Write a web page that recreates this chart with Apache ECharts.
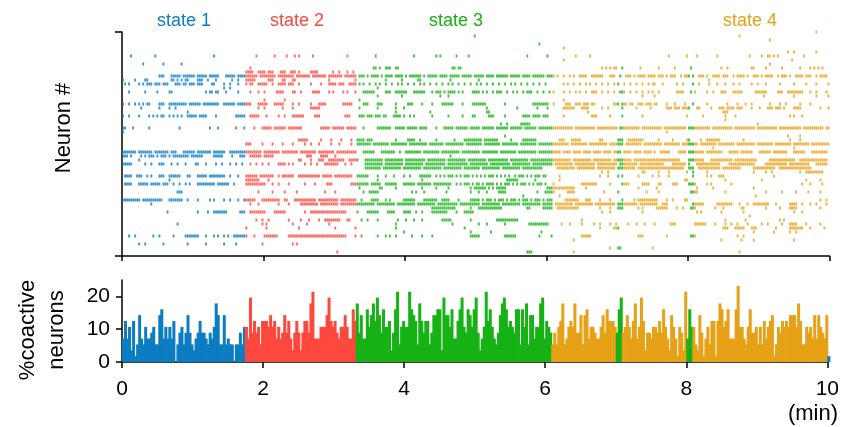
<!DOCTYPE html>
<html>
<head>
<meta charset="utf-8">
<script src="https://cdn.jsdelivr.net/npm/echarts@6/dist/echarts.min.js"></script>
<style>
  html, body { margin: 0; padding: 0; background: #fff; }
  #chart { width: 842px; height: 427px; }
</style>
</head>
<body>
<div id="chart"></div>
<script>
const stateNames = ["state 1", "state 2", "state 3", "state 4"];
const stateColors = ["#0c7dc2", "#fe483e", "#16b216", "#e6a117"];
const stateLabelX = [184, 297, 456, 750];

// 350 time bins over 10 min; runs of bins -> state
const binCount = 350;
const stateRuns = [
  [0, 60, 0], [61, 115, 1], [116, 212, 2], [213, 244, 3], [245, 247, 2],
  [248, 279, 3], [280, 282, 2], [283, 349, 3], [350, 350, 0],
];

const neuronCount = 56;
const xTicks = [0, 2, 4, 6, 8, 10];
const yTicksBottom = [0, 10, 20];

// number of coactive neurons per bin
const coactiveCounts = [
  4,7,4,6,2,7,1,3,8,4, 3,6,4,4,5,6,3,3,8,9, 4,6,4,6,4,7,0,3,5,6,
  3,5,8,5,3,2,4,5,7,5, 5,4,3,5,4,6,10,8,3,3, 8,3,4,3,3,0,3,3,5,3, 6,
  6,4,11,5,7,5,6,3,7,7, 7,6,8,6,7,4,6,4,5,8, 5,7,4,2,5,7,5,2,5,7,
  7,5,10,12,4,4,4,6,6,6, 8,11,7,6,7,5,4,6,6,8, 6,4,4,9,7,
  10,5,8,4,4,9,6,8,10,7, 11,8,5,9,6,6,7,2,5,9, 12,3,6,7,6,6,12,9,8,7,
  3,10,7,5,7,7,3,5,8,8, 9,9,2,11,8,8,6,9,4,4, 7,9,11,6,5,9,8,6,9,11,
  5,2,4,6,12,7,9,6,4,3, 5,8,10,11,9,6,7,6,5,9, 9,3,9,6,10,3,8,8,4,6,
  6,10,11,4,7,6,5,
  3,5,3,6,7,10,3,4,6,7, 6,10,5,5,8,3,8,9,4,6, 6,5,4,4,6,8,5,9,7,7,
  7,6,5,9,11,5,6,8,6,4, 7,10,4,6,11,7,2,5,5,4, 6,6,5,7,5,9,6,4,2,8,
  6,4,1,6,5,2,12,4,9,6, 6,3,2,8,5,1,4,6,3,7, 7,1,7,10,9,6,7,9,4,4,
  4,9,13,6,6,4,3,6,9,5, 5,6,3,6,3,7,4,6,7,8, 1,3,6,5,7,6,7,6,8,8,
  8,6,10,7,3,3,6,5,6,4, 8,4,8,6,5,4,8,
  1,
];

// spike bins per neuron (top to bottom); "a-b" = spikes in every bin a..b
const spikeRows = [
  "343",
  "174 305",
  "320",
  "206",
  "218",
  "329 332 343",
  "4 16 45 66 75 81 85 87 94 111 125 144 155 157 165 171 200 210 224 231 270 279 284 294 310 316 319-320 322 324 337",
  "218 331",
  "10 20 29 320",
  "63 124-125 127 130-132 135-136 163-164 166-167 237 239 241 243-244 247 256 265 273 281 296 299 311-312 318 326 335 340 342 344 346",
  "61-64 67-70 72-74 78-80 83-85 87 93-96 104 107 111 114",
  "18-20 24-28 30-35 37-41 43-47 51-55 57-60 61-66 68-75 77-84 86-92 94-100 102-108 110-115 117-119 121 123-126 128 130-133 135-138 140 142-147 149 151-155 157-160 162-166 168-172 174-178 180-183 185-190 192-196 198-201 203-208 210-213 215 218 221 223 226-229 232-237 241-243 246 249-251 253 255-258 260-263 265-267 269 271-273 276 278-280 282 285-287 289 292-295 297-299 302 304-307 309 312-314 316 318-321 324 326-328 330 333-336 338-340 343 345-348",
  "0 6 11-12 24-25 27 29 31-32 37-39 42 46 54 57 61-65 72-74 79-80 84-85 102 115 130 138 146-147 162 176 290",
  "1 3 8 10 12-14 16-18 20-22 26-28 30-31 33-35 37-39 44-45 50 53 57 61 63-64 67-71 74 77-80 82-84 87 93 98 102-105 107-109 112-115 117 119 122 125 127 130 133 136 138 141 144 147 149 152 155 158 161 163 166 169 172 175 177 180 183 186 189 192 194 197 200 203 206 209 218 220 223 226 229 231 234 237 240 243 245 248 251 254 257 260 262-263 267 274 277 282 285 290 294 298 302 305 311 314 318 325 332 338 343 349",
  "50 53 126",
  "3 11 17 23-24 41 43-44 46-47 51 57 63 67 70 76-79 84-85 88 94-97 102 104 109 111 115 119-124 130-132 135-140 144-149 153 155-157 159 161-164 166 168 173-176 178 180 183 185-187 190 193 195 198 200-202 205 208 211 213 218 221 224 226 229 232-234 237 240 243 246-248 251 254 257 260 262 265 274-277 281 283 289 292 296-298 302-306 313-318 324-326 329-336 340 343 348",
  "126 138 157 161 257 263 317 332 343 349",
  "70 80 117 218",
  "0 3 6 8 10 12-13 18-20 23-31 33-38 40-47 50-55 57-60 61-63 67-71 75-79 84 87 93 97-100 109-113 119-121 126-128 135 141-143 148 153 158-163 168 173-179 189 203-210 213 219-221 224-226 228-230 232-233 243-245 247-249 251-252 255-257 259-261 263-264 269 273 278 282 289 299 304 308 311 320 325 328 335 340",
  "9 18 23 26 67 70 79 84 93-97 117 126 135 139 180 195 205 210 218-223 227-230 237 240 247 254 261 269-271 273-275 277-280 284-285 291 295-297 299-302 304-306 311 315 319-321 323-325 327 332-335 345 349",
  "32 135 152 180-181 230 297-299",
  "0 3 8 13 15 17 19-20 23 25 27 29 32-36 38-41 46 56-60 63-67 71 77 80 84-89 95-97 110-112 117-119 121-123 125-127 129-130 134-137 139 142 144 153 161 168 173-174 181-183 189 198-201 203-206 208-210 218 232-234 241 247 257 279 287 298 303 330 332 336",
  "298",
  "187 190 197-201 314",
  "0-1 5 13 28 43 47 56 60 65 69-73 75-80 82-88 98-102 104-109 111-115 119 126-132 135-139 141-145 147-150 155 159-163 165-170 172-176 178-183 185-190 192-197 199-204 206-213 214-222 224-233 235-244 246-255 257-266 268-278 280-290 292-301 303-312 314-323 325-335 337-346 348-349",
  "0 269",
  "189 329 335",
  "87-91 98 103 108 113 116-119 121-123 135 141-144 147 155 164 169-177 179-185 192 198-204 216-218 222-226 236-237 245-247 250-257 265 272 279-280 286 289-295 307 330 335",
  "61-63 69 74 79 84 90 93 97 103 107 113 116-122 124-131 133-140 142-150 152-158 160-168 170-177 179-186 188-195 197-204 206-212 213-220 222-229 231-239 241-247 249-256 258-266 268-275 277-284 286-293 295-302 304-312 314-321 323-330 332-339 341-349",
  "292 332",
  "0-6 8-14 16-22 24-26 30-35 37-43 45-50 53-60 61-68 70-77 79-86 88-95 97-104 106-115 119-124 128-134 137 140-147 149-156 158-166 168-176 178-185 187-194 196-204 206-212 213-216 218-221 223-226 228-231 233-236 238-241 243-246 248-251 253-256 258-261 263 266-270 275-278 280-287 289-296 300-304 306-311 315-320 322-328 332-337 341-348",
  "0-2 4 9 11 13-15 17 19-21 23 25-32 34-39 45-49 54 58-60 63-68 70-74 91-93 98-101 105 162",
  "8 87-88 93 97-99 102-109 112-116 120-128 130-138 140-149 151-159 161-169 171-179 181-190 192-200 202-212 213-221 223-231 233-241 243-251 253-262 263-275 280-287 291-301 303-313 320-332 335-348",
  "0-4 11 14 18-20 24 27 31 36-37 41 46 49 53 56 59 63 66 69 72 77-80 82 84 90 93 96 100-106 110 113 120-128 130-138 140-148 150-159 161-170 172-180 182-191 193-201 203-212 214-222 224-233 235-244 246-254 256-267 272-278 280 284-295 300-312 318-328 330-339 343-348",
  "120-127 129-137 139-147 149-157 159-167 169-176 178-186 188-196 198-207 215-223 225-233 235-243 245-253 255-277 280-282 285-295 297-305 312-322 325-340",
  "237 240 257-258 265 270 279 282 289 312 318 321 335 338-346",
  "1-4 7-9 12 14 18-20 23-28 32-33 37-41 43-50 53 57 61-66 68-74 77 79-84 87-97 99-103 105-113 116-121 126 130 134 139 142 147-152 155 157 159 161-163 165 167 169-171 173 175 177 179 181-183 185 187 189 191 194 196-198 200 202 204-206 208-209 216 236 240 245 247 255 262 265 270 282 289 291 295-297 322",
  "23 61-67 72 126 148 190-195 204 216 278-279 298 316 338 345",
  "1-4 8-12 14-18 20-22 25 28 31 33 37-45 47-52 55 61-70 74 77 82 90 95 101-103 113-121 123-127 130-135 139-144 146-152 154-162 165 167 169-171 173 175-176 178 180-183 185 187 189-191 193 195 197-199 201 203 205-207 209 213 227-234 241 247-250 257-260 265-266 272-274 280-283 289 291 301 336 340 346",
  "117 127-128 135 148 155 161 172 174-179 181 183 185-189 210-223 229 255 264 284 292 312",
  "27-29 67 74 80 86 100 105 119 122-126 143 145 149 160 172 176 180 186-189 205 209-213 220-223 238 245 259 265 281-284 298 318 326 333 339 345",
  "198 216 313",
  "0-8 10-19 23-29 32 37 43 45 50 53 57 60-65 69-77 80-81 85-95 97-106 108-115 118 123-126 130 132 139-144 149-155 158-161 166 172-176 178 180-182 184 186-188 190 192-194 196 198-200 202 204-206 208 210-212 219-225 229-231 236 241 247 253 255-264 269 272 278-279 345 348",
  "14 63 67 77 82 88-96 98-106 108-124 126-134 136-144 146-154 156-165 167-176 178-186 188-196 198-206 208-212 214-222 224-232 234-243 245-254 256-264 267-269 282-287 294-301 305 309 312-319 323 330-333 336 340 343 348",
  "153-164 172 176-187 200-201 208-212 215-225 236 241 245-247 255 257 264-269 274 277 281-283 293 297 306-307 318 325 330-333 345",
  "22 37 42 45-51 58-60 63-70 75-80 90 93-110 116 121-126 131-134 139-142 145 148 153-160 165 169-173 237 241 257 284 286 296 307 332 336",
  "310",
  "66 69 72 82 88 92 97 100-107 111-112 118 121 126 136 140 144 148 158-162 172 185-195 227 298 308 325 327",
  "27 69 71 84 91 102 135 163 176 180 189 201-210 217 221 227 233 236 241 244 250 254 258 263 271-273 283-288 293 298 301 304 309 316 319 326 330-333 338 345",
  "61 71 87 105 115 135 169 236 243-245 297-299 303-307 311-313 323 330-336 340 347",
  "139 172 182 207 312 322 330 333",
  "3 6 15 18 25 31-37 41 45 47 50 52 55-61 65 70-76 82-110 115 118 126 130 132 135 143 148 153 172-176 189-194 206 212 227-231 255-257 269 281-283 304 307",
  "223 296 306 312 332",
  "8 11 20 32 41 50 56 69 84 86",
  "241 245-246 262",
  "106 200-202 223 305",
];

const dt = 10 / binCount;
const fontFamily = "'Liberation Sans', Arial, Helvetica, sans-serif";

function stateOf(bin) {
  for (const r of stateRuns) {
    if (bin >= r[0] && bin <= r[1]) return r[2];
  }
  return 3;
}

function parseRow(s) {
  const bins = [];
  s.split(/\s+/).filter(Boolean).forEach((tok) => {
    const parts = tok.split("-").map(Number);
    const end = parts.length > 1 ? parts[1] : parts[0];
    for (let b = parts[0]; b <= end; b++) bins.push(b);
  });
  return bins;
}

// raster points grouped by colour
const rasterData = [[], [], [], []];
spikeRows.forEach((row, k) => {
  parseRow(row).forEach((b) => {
    rasterData[stateOf(b)].push([(b + 0.5) * dt, k]);
  });
});

const barData = coactiveCounts.map((c, i) => [i * dt, (c * 100) / neuronCount, stateOf(i)]);

const chart = echarts.init(document.getElementById("chart"), null, {
  width: 842,
  height: 427,
  renderer: "canvas",
});

const axisLineStyle = { color: "#000", width: 1.5 };

const option = {
  animation: false,
  backgroundColor: "#fff",
  grid: [
    { left: 122, top: 32, width: 707.5, height: 224 },
    { left: 122, top: 280, width: 707.5, height: 82 },
  ],
  xAxis: [
    {
      gridIndex: 0,
      type: "value",
      position: "bottom",
      min: 0,
      max: 10,
      interval: 2,
      axisLine: { onZero: false, lineStyle: axisLineStyle },
      axisTick: { length: 5, lineStyle: axisLineStyle },
      axisLabel: { show: false },
      splitLine: { show: false },
    },
    {
      gridIndex: 1,
      type: "value",
      min: 0,
      max: 10,
      interval: 2,
      axisLine: { onZero: false, lineStyle: axisLineStyle },
      axisTick: { length: 6, lineStyle: axisLineStyle },
      axisLabel: { color: "#000", fontSize: 21, fontFamily: fontFamily, margin: 17 },
      splitLine: { show: false },
    },
  ],
  yAxis: [
    {
      gridIndex: 0,
      type: "value",
      inverse: true,
      min: 0,
      max: neuronCount,
      interval: neuronCount,
      axisLine: { show: true, onZero: false, lineStyle: axisLineStyle },
      axisTick: { show: true, length: 7, lineStyle: axisLineStyle },
      axisLabel: { show: false },
      splitLine: { show: false },
    },
    {
      gridIndex: 1,
      type: "value",
      min: 0,
      max: 25,
      interval: 10,
      axisLine: { show: true, onZero: false, lineStyle: axisLineStyle },
      axisTick: { show: true, length: 6, lineStyle: axisLineStyle, customValues: yTicksBottom },
      axisLabel: { color: "#000", fontSize: 21, fontFamily: fontFamily, margin: 12, customValues: yTicksBottom },
      splitLine: { show: false },
    },
  ],
  series: [
    ...rasterData.map((pts, s) => ({
      type: "scatter",
      xAxisIndex: 0,
      yAxisIndex: 0,
      symbol: "rect",
      symbolSize: [1.9, 3],
      clip: false,
      silent: true,
      itemStyle: { color: stateColors[s] },
      data: pts,
    })),
    {
      type: "custom",
      xAxisIndex: 1,
      yAxisIndex: 1,
      silent: true,
      data: barData,
      renderItem: function (params, api) {
        const t0 = api.value(0);
        const p0 = api.coord([t0, 0]);
        const p1 = api.coord([t0 + dt, api.value(1)]);
        return {
          type: "rect",
          shape: { x: p0[0], y: p1[1], width: p1[0] - p0[0] + 1, height: p0[1] - p1[1] },
          style: { fill: stateColors[api.value(2)], stroke: null },
        };
      },
    },
  ],
  graphic: [
    ...stateNames.map((name, s) => ({
      type: "text",
      x: stateLabelX[s],
      y: 21,
      style: {
        text: name,
        fill: stateColors[s],
        fontSize: 18,
        fontFamily: fontFamily,
        align: "center",
        verticalAlign: "middle",
      },
    })),
    {
      type: "text",
      x: 64,
      y: 128,
      rotation: Math.PI / 2,
      style: {
        text: "Neuron #",
        fill: "#000",
        fontSize: 22,
        fontFamily: fontFamily,
        align: "center",
        verticalAlign: "middle",
      },
    },
    {
      type: "text",
      x: 42,
      y: 330,
      rotation: Math.PI / 2,
      style: {
        text: "%coactive\nneurons",
        fill: "#000",
        fontSize: 22,
        lineHeight: 29,
        fontFamily: fontFamily,
        align: "center",
        verticalAlign: "middle",
      },
    },
    {
      type: "text",
      x: 838,
      y: 414,
      style: {
        text: "(min)",
        fill: "#000",
        fontSize: 22,
        fontFamily: fontFamily,
        align: "right",
        verticalAlign: "middle",
      },
    },
  ],
};

chart.setOption(option);
</script>
</body>
</html>
